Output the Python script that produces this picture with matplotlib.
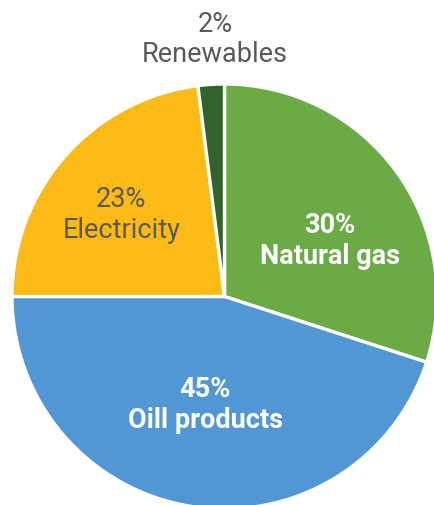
import matplotlib
matplotlib.use("Agg")
import matplotlib.pyplot as plt
import numpy as np

# data
categories = ["Natural gas", "Oill products", "Electricity", "Renewables"]
shares = [30, 45, 23, 2]
colors = ["#6AAB46", "#5197D4", "#FBBB14", "#33622D"]

# label layout: (radius factor, angle offset in deg, text colour, weight)
label_style = [
    (0.56, -8, "white", "bold"),
    (0.52, -1, "white", "bold"),
    (0.62, 3, "#595959", "normal"),
    (1.21, -1.5, "#595959", "normal"),
]

plt.rcParams["font.family"] = ["Roboto", "DejaVu Sans"]

fig = plt.figure(figsize=(4.35, 5.05), dpi=100)
ax = fig.add_axes([0, 0, 1, 1])

wedges, _ = ax.pie(
    shares,
    colors=colors,
    startangle=90,
    counterclock=False,
    radius=1.0,
    wedgeprops={"edgecolor": "white", "linewidth": 2.4},
)

for w, cat, val, (rf, off, col, wt) in zip(wedges, categories, shares, label_style):
    mid = np.deg2rad((w.theta1 + w.theta2) / 2 + off)
    x, y = rf * np.cos(mid), rf * np.sin(mid)
    ax.text(x, y, f"{val}%\n{cat}", ha="center", va="center", color=col,
            fontsize=19.5, fontweight=wt, linespacing=1.18)

ax.set_xlim(-1.0565, 0.9906)
ax.set_ylim(-0.9812, 1.3953)
ax.axis("off")

fig.savefig("out.png", dpi=100)
